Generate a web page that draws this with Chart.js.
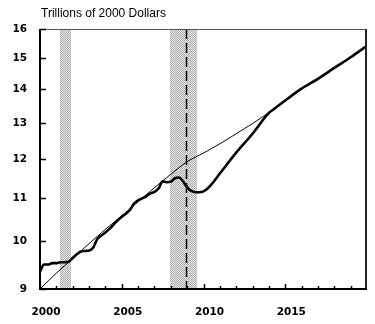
<!DOCTYPE html>
<html>
<head>
<meta charset="utf-8">
<script src="https://cdn.jsdelivr.net/npm/chart.js@4.4.1/dist/chart.umd.min.js"></script>
<style>
  html, body { margin: 0; padding: 0; background: #fff; }
  #wrap { width: 375px; height: 324px; position: relative; }
</style>
</head>
<body>
<div id="wrap"><canvas id="gdpChart"></canvas></div>
<script>
// ---- data ----
const yTicks = [9, 10, 11, 12, 13, 14, 15, 16];
const xLabels = [2000, 2005, 2010, 2015];

// potential output (thin line)
const potentialYears = [2000, 2001, 2002, 2003, 2004, 2005, 2006, 2007, 2008, 2009,
  2010, 2011, 2012, 2013, 2014, 2015, 2016, 2017, 2018, 2019, 2019.9];
const potential = [9.00, 9.32, 9.63, 9.95, 10.27, 10.58, 10.92, 11.26, 11.60, 11.93,
  12.16, 12.41, 12.69, 12.98, 13.30, 13.66, 14.02, 14.33, 14.68, 15.03, 15.38];

// real GDP, quarterly history then projection (thick line)
const actualYears = [2000, 2000.25, 2000.5, 2000.75, 2001, 2001.25, 2001.5, 2001.75,
  2002, 2002.25, 2002.5, 2002.75, 2003, 2003.25, 2003.5, 2003.75,
  2004, 2004.25, 2004.5, 2004.75, 2005, 2005.25, 2005.5, 2005.75,
  2006, 2006.25, 2006.5, 2006.75, 2007, 2007.25, 2007.5, 2007.75,
  2008, 2008.25, 2008.5, 2008.75, 2009, 2009.25, 2009.5, 2009.75,
  2010, 2010.25, 2010.5, 2011, 2012, 2013, 2014, 2014.25,
  2015, 2016, 2017, 2018, 2019, 2019.9];
const actual = [9.35, 9.50, 9.50, 9.53, 9.53, 9.55, 9.55, 9.56,
  9.64, 9.72, 9.78, 9.79, 9.80, 9.86, 10.05, 10.13,
  10.20, 10.28, 10.38, 10.48, 10.56, 10.63, 10.72, 10.87,
  10.95, 11.00, 11.05, 11.12, 11.16, 11.24, 11.42, 11.40,
  11.41, 11.50, 11.52, 11.42, 11.27, 11.18, 11.15, 11.15,
  11.17, 11.24, 11.35, 11.62, 12.17, 12.69, 13.29, 13.38,
  13.66, 14.02, 14.33, 14.68, 15.03, 15.38];

// recessions and the last quarter of history
const recessionStart = [2001.2, 2007.93];
const recessionEnd = [2001.87, 2009.62];
const historyEnd = 2008.92;

// stippled fill for the recession bars
function stipple() {
  const c = document.createElement('canvas');
  c.width = 2; c.height = 2;
  const g = c.getContext('2d');
  g.fillStyle = '#e2e2e2'; g.fillRect(0, 0, 2, 2);
  g.fillStyle = '#b2b2b2'; g.fillRect(0, 0, 1, 1); g.fillRect(1, 1, 1, 1);
  return g.createPattern(c, 'repeat');
}

const frame = {
  id: 'frame',
  beforeDatasetsDraw(chart) {
    const { ctx, chartArea: a, scales: { x } } = chart;
    ctx.save();
    ctx.fillStyle = stipple();
    recessionStart.forEach((s, i) => {
      const x0 = Math.round(x.getPixelForValue(s));
      const x1 = Math.round(x.getPixelForValue(recessionEnd[i]));
      ctx.fillRect(x0, a.top, x1 - x0, a.bottom - a.top);
    });
    // dashed line marking the end of history
    const xd = Math.round(x.getPixelForValue(historyEnd)) + 0.5;
    ctx.strokeStyle = '#000';
    ctx.lineWidth = 1.5;
    ctx.setLineDash([10, 4]);
    ctx.beginPath();
    ctx.moveTo(xd, a.top);
    ctx.lineTo(xd, a.bottom);
    ctx.stroke();
    ctx.restore();
  },
  afterDraw(chart) {
    const { ctx, chartArea: a, scales: { x, y } } = chart;
    ctx.save();
    // box
    ctx.strokeStyle = '#555';
    ctx.lineWidth = 1;
    ctx.beginPath();
    ctx.moveTo(a.left, a.top + 0.5);
    ctx.lineTo(a.right, a.top + 0.5);
    ctx.stroke();
    ctx.strokeStyle = '#222';
    ctx.lineWidth = 2;
    ctx.beginPath();
    ctx.moveTo(a.right - 1, a.top);
    ctx.lineTo(a.right - 1, a.bottom);
    ctx.stroke();
    ctx.strokeStyle = '#000';
    ctx.beginPath();
    ctx.moveTo(a.left, a.top);
    ctx.lineTo(a.left, a.bottom);
    ctx.lineTo(a.right, a.bottom);
    ctx.stroke();
    // inward ticks
    ctx.lineWidth = 1.5;
    ctx.beginPath();
    yTicks.forEach(v => {
      const py = Math.round(y.getPixelForValue(v)) + 0.5;
      ctx.moveTo(a.left, py);
      ctx.lineTo(a.left + 6, py);
    });
    for (let yr = 2001; yr < 2020; yr++) {
      const px = Math.round(x.getPixelForValue(yr)) + 0.5;
      ctx.moveTo(px, a.bottom);
      ctx.lineTo(px, a.bottom - (yr % 5 === 0 ? 5 : 3));
    }
    ctx.stroke();
    // units
    ctx.fillStyle = '#000';
    ctx.font = '12px "Liberation Sans", Arial, sans-serif';
    ctx.textBaseline = 'alphabetic';
    ctx.fillText('Trillions of 2000 Dollars', 41, 17);
    ctx.restore();
  }
};

const tickFont = { family: '"DejaVu Sans", Verdana, sans-serif', size: 10.5, weight: 'bold' };

new Chart(document.getElementById('gdpChart'), {
  type: 'line',
  data: {
    datasets: [{
      label: 'Potential',
      data: potentialYears.map((yr, i) => ({ x: yr, y: potential[i] })),
      borderColor: '#000',
      borderWidth: 1,
      pointRadius: 0,
      tension: 0.3
    }, {
      label: 'Real GDP',
      data: actualYears.map((yr, i) => ({ x: yr, y: actual[i] })),
      borderColor: '#000',
      borderWidth: 2.6,
      pointRadius: 0,
      cubicInterpolationMode: 'monotone'
    }]
  },
  options: {
    responsive: true,
    maintainAspectRatio: false,
    animation: false,
    layout: { padding: { left: 0, right: 8, top: 29, bottom: 0 } },
    plugins: { legend: { display: false }, tooltip: { enabled: false } },
    scales: {
      x: {
        type: 'linear',
        min: 2000,
        max: 2020,
        grid: { display: false, drawTicks: false },
        border: { display: false },
        afterFit: s => { s.height = 35; },
        afterBuildTicks: s => { s.ticks = xLabels.map(v => ({ value: v })); },
        ticks: {
          color: '#000',
          font: tickFont,
          padding: 17,
          labelOffset: 6,
          maxRotation: 0,
          callback: v => String(v)
        }
      },
      y: {
        type: 'logarithmic',
        min: 9,
        max: 16,
        grid: { display: false, drawTicks: false },
        border: { display: false },
        afterFit: s => { s.width = 40; },
        afterBuildTicks: s => { s.ticks = yTicks.map(v => ({ value: v })); },
        ticks: {
          color: '#000',
          font: tickFont,
          padding: 13,
          callback: v => String(v)
        }
      }
    }
  },
  plugins: [frame]
});
</script>
</body>
</html>
